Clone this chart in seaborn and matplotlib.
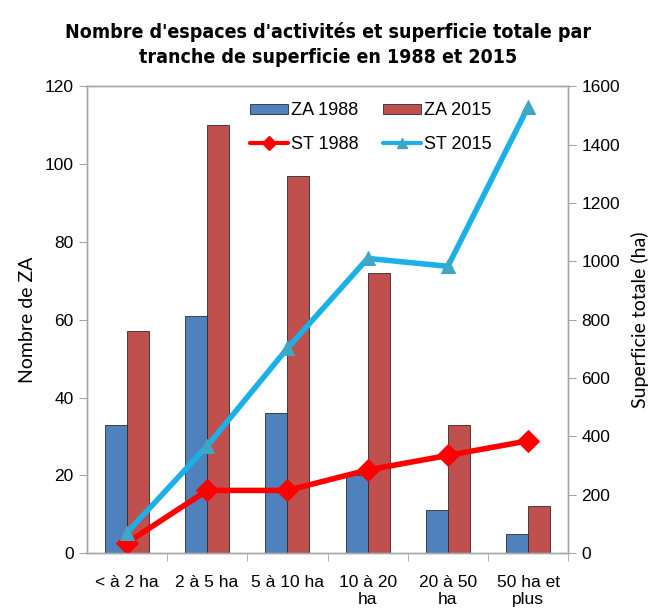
import numpy as np
import pandas as pd
import matplotlib.pyplot as plt
import seaborn as sns
from matplotlib.lines import Line2D
from matplotlib.patches import Patch

# --------------------------
# Data
# --------------------------
tranches = ["< à 2 ha", "2 à 5 ha", "5 à 10 ha", "10 à 20\nha", "20 à 50\nha", "50 ha et\nplus"]
za_1988 = [33, 61, 36, 20, 11, 5]
za_2015 = [57, 110, 97, 72, 33, 12]
st_1988 = [35, 215, 215, 285, 335, 385]
st_2015 = [70, 367, 702, 1010, 983, 1530]

blue = "#4F81BD"
red = "#C0504D"
grey = "#A6A6A6"

bars = pd.DataFrame(
    {
        "tranche": tranches * 2,
        "nombre": za_1988 + za_2015,
        "serie": ["ZA 1988"] * len(tranches) + ["ZA 2015"] * len(tranches),
    }
)
lines = pd.DataFrame(
    {"pos": np.arange(len(tranches)), "st1988": st_1988, "st2015": st_2015}
)

sns.set_style("white")
plt.rcParams["font.family"] = ["Liberation Sans", "DejaVu Sans"]
plt.rcParams["text.color"] = "black"
plt.rcParams["axes.labelcolor"] = "black"
plt.rcParams["xtick.labelcolor"] = "black"
plt.rcParams["ytick.labelcolor"] = "black"

fig = plt.figure(figsize=(6.57, 6.16), dpi=100)
ax = fig.add_axes([0.132, 0.102, 0.733, 0.758])

sns.barplot(
    data=bars,
    x="tranche",
    y="nombre",
    hue="serie",
    palette={"ZA 1988": blue, "ZA 2015": red},
    saturation=1,
    width=0.55,
    gap=0,
    edgecolor="#2b2b2b",
    linewidth=0.6,
    ax=ax,
    legend=False,
)
ax.set_ylim(0, 120)
ax.set_yticks(range(0, 121, 20))
ax.set_xlim(-0.5, len(tranches) - 0.5)
ax.set_xlabel("")
ax.set_ylabel("Nombre de ZA", fontsize=14, family="Lato", labelpad=6)
ax.tick_params(axis="y", left=True, labelsize=12.5, length=6, color=grey, direction="out")
ax.set_xticks(np.arange(len(tranches)) + 0.5, minor=True)
ax.tick_params(axis="x", which="major", bottom=False, labelsize=12.5, pad=12)
ax.tick_params(axis="x", which="minor", bottom=True, length=6, color=grey, direction="out")
for s in ax.spines.values():
    s.set_color(grey)
    s.set_linewidth(1)

ax2 = ax.twinx()
sns.lineplot(
    data=lines, x="pos", y="st1988", color="#FF0000", linewidth=4,
    marker="D", markersize=11, markeredgecolor="#FF0000", ax=ax2,
)
sns.lineplot(
    data=lines, x="pos", y="st2015", color="#1CB0E8", linewidth=4,
    marker="^", markersize=10, markerfacecolor="#3FA7C4",
    markeredgecolor="#3FA7C4", ax=ax2,
)
ax2.set_ylim(0, 1600)
ax2.set_yticks(range(0, 1601, 200))
ax2.set_xlim(-0.5, len(tranches) - 0.5)
ax2.set_ylabel("Superficie totale (ha)", fontsize=14, family="Lato", labelpad=8)
ax2.tick_params(axis="y", right=True, labelsize=12.5, length=6, color=grey, direction="out")
for s in ax2.spines.values():
    s.set_color(grey)
    s.set_linewidth(1)

handles = [
    Patch(facecolor=blue, edgecolor="#2b2b2b", linewidth=0.6),
    Line2D([], [], color="#FF0000", lw=3, marker="D", markersize=7),
    Patch(facecolor=red, edgecolor="#2b2b2b", linewidth=0.6),
    Line2D([], [], color="#1CB0E8", lw=3, marker="^", markersize=7,
           markerfacecolor="#3FA7C4", markeredgecolor="#3FA7C4"),
]
labels = ["ZA 1988", "ST 1988", "ZA 2015", "ST 2015"]
ax2.legend(
    handles, labels, ncol=2, loc="upper center", bbox_to_anchor=(0.59, 1.0),
    frameon=False, fontsize=13, handlelength=2.1, handleheight=0.5,
    columnspacing=1.4, labelspacing=0.9, handletextpad=0.15,
)

fig.suptitle(
    "Nombre d'espaces d'activités et superficie totale par\n"
    "tranche de superficie en 1988 et 2015",
    x=0.5, y=0.965, fontsize=14, fontweight="bold", color="black",
    family="DejaVu Sans", fontstretch="condensed", linespacing=1.4,
)

fig.savefig("out.png", dpi=100, facecolor="white")
